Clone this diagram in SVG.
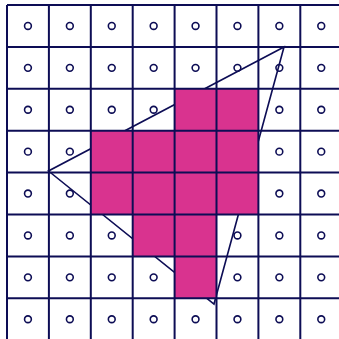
<svg xmlns="http://www.w3.org/2000/svg" width="339" height="339" viewBox="0 0 339 339">
<style>
.dot{fill:none;stroke:#0d0d55;stroke-width:1.6}
.tri{fill:none;stroke:#0d0d55;stroke-width:1.6;stroke-linejoin:miter}
.fill{fill:#d9338f}
.grid{stroke:#0d0d55;stroke-width:2}
</style>
<defs><circle id="c" r="3.4" class="dot"/></defs>
<rect width="339" height="339" fill="#ffffff"/>
<g id="dots">
<g id="r0"><use href="#c" x="27.95" y="25.95"/><use href="#c" x="69.85" y="25.95"/><use href="#c" x="111.75" y="25.95"/><use href="#c" x="153.65" y="25.95"/><use href="#c" x="195.55" y="25.95"/><use href="#c" x="237.45" y="25.95"/><use href="#c" x="279.35" y="25.95"/><use href="#c" x="321.25" y="25.95"/></g>
<use href="#r0" y="41.9"/><use href="#r0" y="83.8"/><use href="#r0" y="125.7"/><use href="#r0" y="167.6"/><use href="#r0" y="209.5"/><use href="#r0" y="251.4"/><use href="#r0" y="293.3"/>
</g>
<g id="triangle"><polygon class="tri" points="284,47 48.5,171 214,304"/></g>
<g id="cells">
<rect class="fill" x="174.6" y="88.8" width="83.8" height="41.9"/>
<rect class="fill" x="90.8" y="130.7" width="167.6" height="83.8"/>
<rect class="fill" x="132.7" y="214.5" width="83.8" height="41.9"/>
<rect class="fill" x="174.6" y="256.4" width="41.9" height="41.9"/>
</g>
<g id="grid" class="grid">
<line x1="7" y1="5" x2="7" y2="339"/><line x1="48.9" y1="5" x2="48.9" y2="339"/><line x1="90.8" y1="5" x2="90.8" y2="339"/><line x1="132.7" y1="5" x2="132.7" y2="339"/><line x1="174.6" y1="5" x2="174.6" y2="339"/><line x1="216.5" y1="5" x2="216.5" y2="339"/><line x1="258.4" y1="5" x2="258.4" y2="339"/><line x1="300.3" y1="5" x2="300.3" y2="339"/>
<line x1="7" y1="5" x2="339" y2="5"/><line x1="7" y1="46.9" x2="339" y2="46.9"/><line x1="7" y1="88.8" x2="339" y2="88.8"/><line x1="7" y1="130.7" x2="339" y2="130.7"/><line x1="7" y1="172.6" x2="339" y2="172.6"/><line x1="7" y1="214.5" x2="339" y2="214.5"/><line x1="7" y1="256.4" x2="339" y2="256.4"/><line x1="7" y1="298.3" x2="339" y2="298.3"/>
</g>
</svg>
